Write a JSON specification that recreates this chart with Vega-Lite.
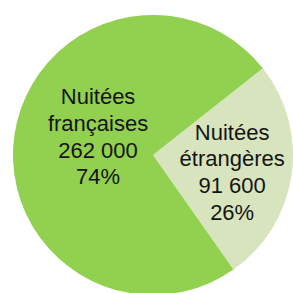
{
  "$schema": "https://vega.github.io/schema/vega-lite/v6.json",
  "width": 280,
  "height": 280,
  "padding": {"left": 13, "top": 15, "right": 0, "bottom": 0},
  "autosize": {"type": "none"},
  "background": "white",
  "config": {"view": {"stroke": null}},
  "data": {
    "values": [
      {"cat": "etr", "order": 1, "nuitees": 91600, "label": ["Nuitées", "étrangères", "91 600", "26%"]},
      {"cat": "fr", "order": 2, "nuitees": 262000, "label": ["Nuitées", "françaises", "262 000", "74%"]}
    ]
  },
  "encoding": {
    "theta": {"field": "nuitees", "type": "quantitative", "stack": true, "scale": {"range": [0.902, 7.185]}},
    "order": {"field": "order", "type": "quantitative"}
  },
  "layer": [
    {
      "mark": {"type": "arc", "radius": 140, "stroke": null},
      "encoding": {
        "color": {"field": "cat", "type": "nominal", "scale": {"domain": ["etr", "fr"], "range": ["#D7E4BD", "#92D050"]}, "legend": null}
      }
    },
    {
      "mark": {"type": "text", "radius": 54, "dx": -1.5, "dy": -50, "font": "Liberation Sans", "fontSize": 22, "lineHeight": 26.7, "align": "center", "baseline": "middle", "color": "#141414"},
      "encoding": {
        "text": {"condition": {"test": "datum.cat === 'fr'", "field": "label"}, "value": ""}
      }
    },
    {
      "mark": {"type": "text", "radius": 81, "dx": -1, "dy": -34, "font": "Liberation Sans", "fontSize": 22, "lineHeight": 26.7, "align": "center", "baseline": "middle", "color": "#141414"},
      "encoding": {
        "text": {"condition": {"test": "datum.cat === 'etr'", "field": "label"}, "value": ""}
      }
    }
  ]
}
